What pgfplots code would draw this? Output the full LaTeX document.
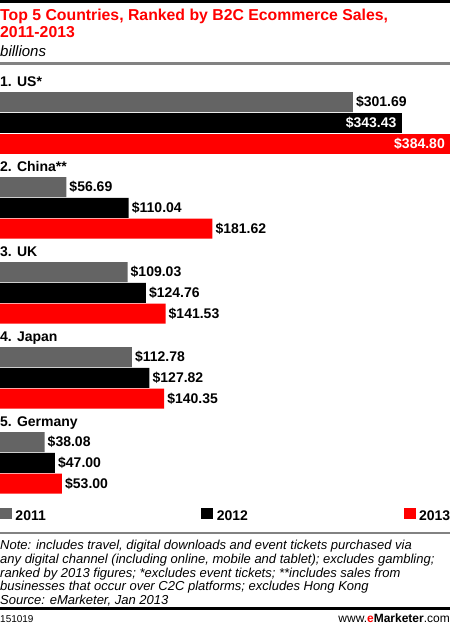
\documentclass[border=0pt]{standalone}
\usepackage{fontspec}
\setmainfont{Liberation Sans}
\usepackage{pgfplots}
\pgfplotsset{compat=1.18}
\definecolor{emGray}{RGB}{100,100,100}
\definecolor{emRed}{RGB}{255,0,0}
\definecolor{emBlack}{RGB}{0,0,0}
\definecolor{emRule}{RGB}{130,130,130}
\tikzset{country/.style={anchor=base west, inner sep=0pt, font=\bfseries\fontsize{14}{14}\selectfont}}

\begin{document}
\begin{tikzpicture}[x=1pt,y=1pt]
\useasboundingbox (0,0) rectangle (450,625);
\fill[white] (0,0) rectangle (450,625);
% header and footer rules
\fill[black] (0,622) rectangle (450,625);
\fill[emRule] (0,560) rectangle (450,562.5);
\fill[emRule] (0,91) rectangle (450,93);
\fill[black] (0,14.5) rectangle (450,17.5);

\begin{axis}[
  at={(0,0)}, anchor=south west,
  width=450pt, height=625pt, scale only axis,
  xmin=0, xmax=384.8,
  ymin=-6.90588, ymax=0.44706,
  hide axis, clip=false,
  xbar, bar width=20pt,
  /pgf/number format/assume math mode=true,
  nodes near coords={\$\pgfmathprintnumber[fixed,fixed zerofill,precision=2]{\pgfplotspointmeta}},
  point meta=x,
  every node near coord/.append style={font=\bfseries\fontsize{14}{14}\selectfont, text=black, inner xsep=3pt},
  legend columns=3,
  legend style={draw=none, fill=none, at={(0,0.176)}, anchor=west,
    inner sep=0pt, outer sep=0pt,
    nodes={inner sep=0pt, font=\bfseries\fontsize{14}{14}\selectfont},
    /tikz/every odd column/.append style={column sep=3.5pt},
    /tikz/every even column/.append style={column sep=155.5pt}},
  legend image code/.code={\fill[#1] (0pt,-3.5pt) rectangle (12pt,7.5pt);},
]
% 2011
\addplot[fill=emGray, draw=none, bar shift=20.75pt]
  coordinates {(301.69,-1) (56.69,-2) (109.03,-3) (112.78,-4) (38.08,-5)};
% 2012
\addplot[fill=emBlack, draw=none, bar shift=0pt]
  coordinates {(110.04,-2) (124.76,-3) (127.82,-4) (47.00,-5)};
% 2013
\addplot[fill=emRed, draw=none, bar shift=-20.75pt]
  coordinates {(181.62,-2) (141.53,-3) (140.35,-4) (53.00,-5)};
% US bars for 2012 and 2013 carry their labels inside
\addplot[forget plot, fill=emBlack, draw=none, bar shift=0pt,
  every node near coord/.append style={anchor=east, text=white, inner xsep=5pt}]
  coordinates {(343.43,-1)};
\addplot[forget plot, fill=emRed, draw=none, bar shift=-20.75pt,
  every node near coord/.append style={anchor=east, text=white, inner xsep=5pt}]
  coordinates {(384.80,-1)};
\legend{2011,2012,2013}

% country names
\node[country] at (axis cs:0,-0.5765) {1. US*};
\node[country] at (axis cs:0,-1.5765) {2. China**};
\node[country] at (axis cs:0,-2.5765) {3. UK};
\node[country] at (axis cs:0,-3.5765) {4. Japan};
\node[country] at (axis cs:0,-4.5765) {5. Germany};
\end{axis}

% title block
\node[anchor=base west, inner sep=0pt, text=emRed, font=\bfseries\fontsize{15.8}{16}\selectfont]
  at (0,604) {Top 5 Countries, Ranked by B2C Ecommerce Sales,};
\node[anchor=base west, inner sep=0pt, text=emRed, font=\bfseries\fontsize{15.8}{16}\selectfont]
  at (0,587.5) {2011-2013};
\node[anchor=base west, inner sep=0pt, font=\itshape\fontsize{15}{16}\selectfont]
  at (0,568.5) {billions};

% note
\begin{scope}[every node/.style={anchor=base west, inner sep=0pt, font=\itshape\fontsize{13}{13.8}\selectfont}]
\node at (0,75.5) {Note: includes travel, digital downloads and event tickets purchased via};
\node at (0,61.7) {any digital channel (including online, mobile and tablet); excludes gambling;};
\node at (0,47.9) {ranked by 2013 figures; *excludes event tickets; **includes sales from};
\node at (0,34.1) {businesses that occur over C2C platforms; excludes Hong Kong};
\node at (0,20.3) {Source: eMarketer, Jan 2013};
\end{scope}

% footer
\node[anchor=base west, inner sep=0pt, font=\fontsize{10}{12}\selectfont] at (0,2.5) {151019};
\node[anchor=base east, inner sep=0pt, font=\fontsize{12}{12}\selectfont] at (450,2.5)
  {www.\textbf{\textcolor{emRed}{e}Marketer}.com};
\end{tikzpicture}
\end{document}
